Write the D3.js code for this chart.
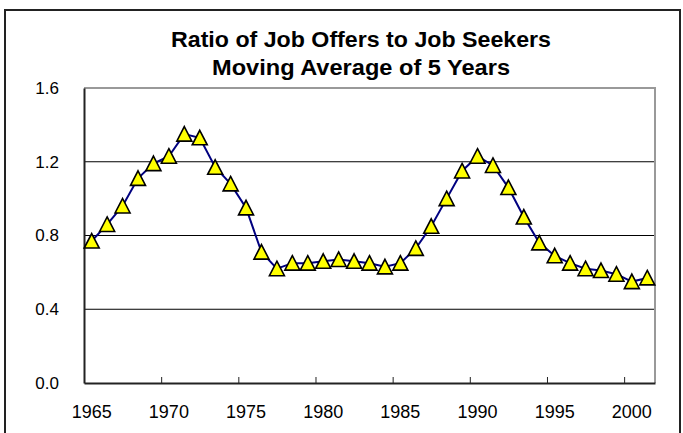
<!DOCTYPE html>
<html>
<head>
<meta charset="utf-8">
<script src="https://cdn.jsdelivr.net/npm/d3@7"></script>
<style>
  html, body { margin: 0; padding: 0; background: #fff; }
  svg { display: block; }
  text { font-family: "Liberation Sans", Arial, sans-serif; fill: #000; }
</style>
</head>
<body>
<svg id="chart" width="683" height="433"></svg>
<script>
// Years on the category axis
const years = d3.range(1965, 2002);
// 5-year moving average of the job offers / job seekers ratio
const ratio = [
  0.77, 0.86, 0.96, 1.11, 1.19, 1.23, 1.35, 1.33, 1.17, 1.08,
  0.95, 0.71, 0.62, 0.65, 0.65, 0.66, 0.67, 0.66, 0.65, 0.63,
  0.65, 0.73, 0.85, 1.00, 1.15, 1.23, 1.18, 1.06, 0.90, 0.76,
  0.69, 0.65, 0.62, 0.61, 0.59, 0.55, 0.57
];
const yTicks = [0, 0.4, 0.8, 1.2, 1.6];
const xLabelYears = [1965, 1970, 1975, 1980, 1985, 1990, 1995, 2000];
const titleLines = ["Ratio of Job Offers to Job Seekers", "Moving Average of 5 Years"];

const svg = d3.select("#chart");
const plot = { left: 84, right: 655, top: 88, bottom: 383 };

// outer chart frame
svg.append("rect")
  .attr("x", 5).attr("y", 10).attr("width", 675).attr("height", 440)
  .attr("fill", "#fff").attr("stroke", "#222").attr("stroke-width", 2);

const x = d3.scaleBand().domain(years).range([plot.left, plot.right]).paddingInner(0).paddingOuter(0);
const y = d3.scaleLinear().domain([0, 1.6]).range([plot.bottom, plot.top]);

// title
svg.append("g").selectAll("text").data(titleLines).join("text")
  .attr("x", 361).attr("y", (d, i) => 47 + i * 28)
  .attr("text-anchor", "middle")
  .attr("font-size", 22).attr("font-weight", "bold")
  .attr("textLength", (d, i) => i === 0 ? 380 : 298)
  .attr("lengthAdjust", "spacingAndGlyphs")
  .text(d => d);

// horizontal gridlines
svg.append("g").selectAll("line").data(yTicks.filter(t => t > 0 && t < 1.6)).join("line")
  .attr("x1", plot.left).attr("x2", plot.right)
  .attr("y1", d => y(d)).attr("y2", d => y(d))
  .attr("stroke", "#000").attr("stroke-width", 1);

// plot-area border: grey top and right
svg.append("path")
  .attr("d", `M${plot.left},${plot.top}H${plot.right}V${plot.bottom}`)
  .attr("fill", "none").attr("stroke", "#999").attr("stroke-width", 2);

// y axis
const yAxis = svg.append("g")
  .attr("transform", `translate(${plot.left},0)`)
  .call(d3.axisLeft(y).tickValues(yTicks).tickFormat(d3.format(".1f")).tickSize(0).tickPadding(25));
yAxis.select(".domain").attr("stroke", "#222").attr("stroke-width", 2);
yAxis.selectAll("text").attr("font-size", 17).attr("font-family", null).attr("fill", "#000");

// x axis: tick marks at category boundaries every 5 years, pointing inward
const boundary = d3.scaleLinear().domain([1964.5, 2001.5]).range([plot.left, plot.right]);
const xAxis = svg.append("g")
  .attr("transform", `translate(0,${plot.bottom})`)
  .call(d3.axisBottom(boundary).tickValues(d3.range(1969.5, 2001, 5)).tickSizeInner(-6).tickSizeOuter(0).tickFormat(""));
xAxis.select(".domain").attr("stroke", "#222").attr("stroke-width", 2);
xAxis.selectAll(".tick line").attr("stroke", "#222");

// year labels centred on their categories
svg.append("g").selectAll("text").data(xLabelYears).join("text")
  .attr("x", d => x(d) + x.bandwidth() / 2)
  .attr("y", 418)
  .attr("text-anchor", "middle")
  .attr("font-size", 18)
  .text(d => d);

// series line
const cx = (d, i) => x(years[i]) + x.bandwidth() / 2;
svg.append("path")
  .datum(ratio)
  .attr("d", d3.line().x(cx).y(d => y(d)))
  .attr("fill", "none").attr("stroke", "#000080").attr("stroke-width", 2);

// triangle markers
const tri = "M0,-7.5L7.5,7L-7.5,7Z";
svg.append("g").selectAll("path").data(ratio).join("path")
  .attr("transform", (d, i) => `translate(${cx(d, i)},${y(d)})`)
  .attr("d", tri)
  .attr("fill", "#ffff00").attr("stroke", "#000").attr("stroke-width", 1.6)
  .attr("stroke-linejoin", "miter");
</script>
</body>
</html>
